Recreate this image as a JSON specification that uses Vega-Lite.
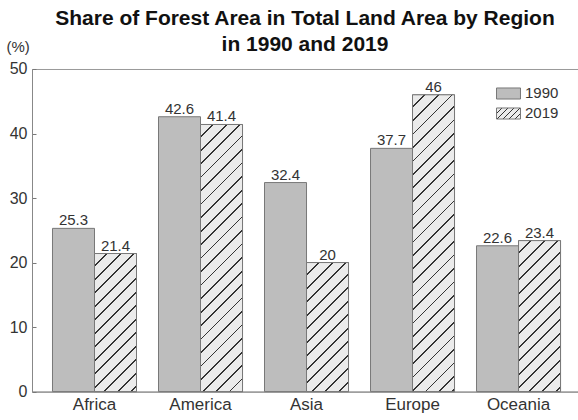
{
  "$schema": "https://vega.github.io/schema/vega-lite/v6.json",
  "autosize": {"type": "none"},
  "padding": {"left": 32, "top": 69, "right": 0, "bottom": 28},
  "width": 546,
  "height": 322.6,
  "background": "white",
  "title": {
    "text": ["Share of Forest Area in Total Land Area by Region", "in 1990 and 2019"],
    "fontSize": 21,
    "fontWeight": "bold",
    "font": "Liberation Sans",
    "lineHeight": 26,
    "offset": -15,
    "color": "#111",
    "anchor": "middle"
  },
  "params": [
    {"name": "hatch", "value": [
      {"offset": 0, "color": "#ebebeb"},
      {"offset": 0.0288, "color": "#ebebeb"}, {"offset": 0.0288, "color": "#333"}, {"offset": 0.0333, "color": "#333"}, {"offset": 0.0333, "color": "#ebebeb"},
      {"offset": 0.0622, "color": "#ebebeb"}, {"offset": 0.0622, "color": "#333"}, {"offset": 0.0667, "color": "#333"}, {"offset": 0.0667, "color": "#ebebeb"},
      {"offset": 0.0955, "color": "#ebebeb"}, {"offset": 0.0955, "color": "#333"}, {"offset": 0.1, "color": "#333"}, {"offset": 0.1, "color": "#ebebeb"},
      {"offset": 0.1288, "color": "#ebebeb"}, {"offset": 0.1288, "color": "#333"}, {"offset": 0.1333, "color": "#333"}, {"offset": 0.1333, "color": "#ebebeb"},
      {"offset": 0.1622, "color": "#ebebeb"}, {"offset": 0.1622, "color": "#333"}, {"offset": 0.1667, "color": "#333"}, {"offset": 0.1667, "color": "#ebebeb"},
      {"offset": 0.1955, "color": "#ebebeb"}, {"offset": 0.1955, "color": "#333"}, {"offset": 0.2, "color": "#333"}, {"offset": 0.2, "color": "#ebebeb"},
      {"offset": 0.2288, "color": "#ebebeb"}, {"offset": 0.2288, "color": "#333"}, {"offset": 0.2333, "color": "#333"}, {"offset": 0.2333, "color": "#ebebeb"},
      {"offset": 0.2622, "color": "#ebebeb"}, {"offset": 0.2622, "color": "#333"}, {"offset": 0.2667, "color": "#333"}, {"offset": 0.2667, "color": "#ebebeb"},
      {"offset": 0.2955, "color": "#ebebeb"}, {"offset": 0.2955, "color": "#333"}, {"offset": 0.3, "color": "#333"}, {"offset": 0.3, "color": "#ebebeb"},
      {"offset": 0.3288, "color": "#ebebeb"}, {"offset": 0.3288, "color": "#333"}, {"offset": 0.3333, "color": "#333"}, {"offset": 0.3333, "color": "#ebebeb"},
      {"offset": 0.3622, "color": "#ebebeb"}, {"offset": 0.3622, "color": "#333"}, {"offset": 0.3667, "color": "#333"}, {"offset": 0.3667, "color": "#ebebeb"},
      {"offset": 0.3955, "color": "#ebebeb"}, {"offset": 0.3955, "color": "#333"}, {"offset": 0.4, "color": "#333"}, {"offset": 0.4, "color": "#ebebeb"},
      {"offset": 0.4288, "color": "#ebebeb"}, {"offset": 0.4288, "color": "#333"}, {"offset": 0.4333, "color": "#333"}, {"offset": 0.4333, "color": "#ebebeb"},
      {"offset": 0.4622, "color": "#ebebeb"}, {"offset": 0.4622, "color": "#333"}, {"offset": 0.4667, "color": "#333"}, {"offset": 0.4667, "color": "#ebebeb"},
      {"offset": 0.4955, "color": "#ebebeb"}, {"offset": 0.4955, "color": "#333"}, {"offset": 0.5, "color": "#333"}, {"offset": 0.5, "color": "#ebebeb"},
      {"offset": 0.5288, "color": "#ebebeb"}, {"offset": 0.5288, "color": "#333"}, {"offset": 0.5333, "color": "#333"}, {"offset": 0.5333, "color": "#ebebeb"},
      {"offset": 0.5622, "color": "#ebebeb"}, {"offset": 0.5622, "color": "#333"}, {"offset": 0.5667, "color": "#333"}, {"offset": 0.5667, "color": "#ebebeb"},
      {"offset": 0.5955, "color": "#ebebeb"}, {"offset": 0.5955, "color": "#333"}, {"offset": 0.6, "color": "#333"}, {"offset": 0.6, "color": "#ebebeb"},
      {"offset": 0.6288, "color": "#ebebeb"}, {"offset": 0.6288, "color": "#333"}, {"offset": 0.6333, "color": "#333"}, {"offset": 0.6333, "color": "#ebebeb"},
      {"offset": 0.6622, "color": "#ebebeb"}, {"offset": 0.6622, "color": "#333"}, {"offset": 0.6667, "color": "#333"}, {"offset": 0.6667, "color": "#ebebeb"},
      {"offset": 0.6955, "color": "#ebebeb"}, {"offset": 0.6955, "color": "#333"}, {"offset": 0.7, "color": "#333"}, {"offset": 0.7, "color": "#ebebeb"},
      {"offset": 0.7288, "color": "#ebebeb"}, {"offset": 0.7288, "color": "#333"}, {"offset": 0.7333, "color": "#333"}, {"offset": 0.7333, "color": "#ebebeb"},
      {"offset": 0.7622, "color": "#ebebeb"}, {"offset": 0.7622, "color": "#333"}, {"offset": 0.7667, "color": "#333"}, {"offset": 0.7667, "color": "#ebebeb"},
      {"offset": 0.7955, "color": "#ebebeb"}, {"offset": 0.7955, "color": "#333"}, {"offset": 0.8, "color": "#333"}, {"offset": 0.8, "color": "#ebebeb"},
      {"offset": 0.8288, "color": "#ebebeb"}, {"offset": 0.8288, "color": "#333"}, {"offset": 0.8333, "color": "#333"}, {"offset": 0.8333, "color": "#ebebeb"},
      {"offset": 0.8622, "color": "#ebebeb"}, {"offset": 0.8622, "color": "#333"}, {"offset": 0.8667, "color": "#333"}, {"offset": 0.8667, "color": "#ebebeb"},
      {"offset": 0.8955, "color": "#ebebeb"}, {"offset": 0.8955, "color": "#333"}, {"offset": 0.9, "color": "#333"}, {"offset": 0.9, "color": "#ebebeb"},
      {"offset": 0.9288, "color": "#ebebeb"}, {"offset": 0.9288, "color": "#333"}, {"offset": 0.9333, "color": "#333"}, {"offset": 0.9333, "color": "#ebebeb"},
      {"offset": 0.9622, "color": "#ebebeb"}, {"offset": 0.9622, "color": "#333"}, {"offset": 0.9667, "color": "#333"}, {"offset": 0.9667, "color": "#ebebeb"},
      {"offset": 0.9955, "color": "#ebebeb"}, {"offset": 0.9955, "color": "#333"}, {"offset": 1, "color": "#333"}
    ]}
  ],
  "data": {"values": [
    {"region": "Africa", "year": "1990", "value": 25.3},
    {"region": "Africa", "year": "2019", "value": 21.4},
    {"region": "America", "year": "1990", "value": 42.6},
    {"region": "America", "year": "2019", "value": 41.4},
    {"region": "Asia", "year": "1990", "value": 32.4},
    {"region": "Asia", "year": "2019", "value": 20},
    {"region": "Europe", "year": "1990", "value": 37.7},
    {"region": "Europe", "year": "2019", "value": 46},
    {"region": "Oceania", "year": "1990", "value": 22.6},
    {"region": "Oceania", "year": "2019", "value": 23.4}
  ]},
  "encoding": {
    "x": {
      "field": "region", "type": "nominal", "sort": null,
      "scale": {"paddingInner": 0.2075, "paddingOuter": 0.179, "align": 0.54},
      "axis": {"title": null, "labelAngle": 0, "ticks": false, "labelFontSize": 17, "labelPadding": 5, "labelColor": "#333", "domainColor": "#888", "labelFont": "Liberation Sans"}
    },
    "xOffset": {"field": "year", "type": "nominal", "scale": {"paddingInner": 0, "paddingOuter": 0}},
    "y": {
      "field": "value", "type": "quantitative",
      "scale": {"domain": [0, 50], "nice": false},
      "axis": {
        "title": "(%)", "titleAngle": 0, "titleAlign": "left", "titleBaseline": "alphabetic",
        "titleX": -26, "titleY": -17, "titleFontSize": 15, "titleFontWeight": "normal", "titleColor": "#333", "titleFont": "Liberation Sans",
        "values": [0, 10, 20, 30, 40, 50], "grid": false, "tickSize": -4, "tickColor": "#777", "labelPadding": 9,
        "labelFontSize": 16, "labelColor": "#333", "domainColor": "#888", "labelFont": "Liberation Sans"
      }
    }
  },
  "layer": [
    {
      "mark": {"type": "bar", "stroke": "#777", "strokeWidth": 1},
      "encoding": {
        "fill": {
          "field": "year", "type": "nominal",
          "scale": {"domain": ["1990", "2019"], "range": ["#bdbdbd", {"expr": "{gradient: 'linear', x1: 0, y1: 0, x2: 6.2, y2: 2.84, stops: hatch}"}]},
          "legend": {
            "orient": "none", "legendX": 464, "legendY": 16.5, "title": null,
            "symbolType": "M-1,-0.46H1V0.46H-1Z", "symbolSize": 576,
            "symbolStrokeColor": "#777", "symbolStrokeWidth": 1,
            "labelFontSize": 15, "labelColor": "#333", "labelOffset": 4, "labelFont": "Liberation Sans",
            "rowPadding": 4, "clipHeight": 16, "padding": 0,
            "encode": {"symbols": {"update": {
              "stroke": {"value": "#777"},
              "strokeWidth": {"value": 1},
              "opacity": {"value": 1}
            }}}
          }
        }
      }
    },
    {
      "transform": [{"filter": "datum.year == '2019'"}],
      "mark": {
        "type": "bar", "stroke": "#777", "strokeWidth": 1,
        "fill": {"expr": "{gradient: 'linear', x1: 0, y1: 0, x2: bandwidth('xOffset') * 405 / (pow(bandwidth('xOffset'), 2) + pow(scale('y', 0) - scale('y', datum.value), 2)), y2: (scale('y', 0) - scale('y', datum.value)) * 405 / (pow(bandwidth('xOffset'), 2) + pow(scale('y', 0) - scale('y', datum.value), 2)), stops: hatch}"}
      }
    },
    {
      "mark": {"type": "text", "baseline": "alphabetic", "dy": -3, "fontSize": 15, "color": "#333", "font": "Liberation Sans"},
      "encoding": {"text": {"field": "value", "type": "quantitative"}}
    }
  ],
  "config": {
    "view": {"stroke": "#999", "strokeWidth": 1},
    "font": "Liberation Sans"
  }
}
